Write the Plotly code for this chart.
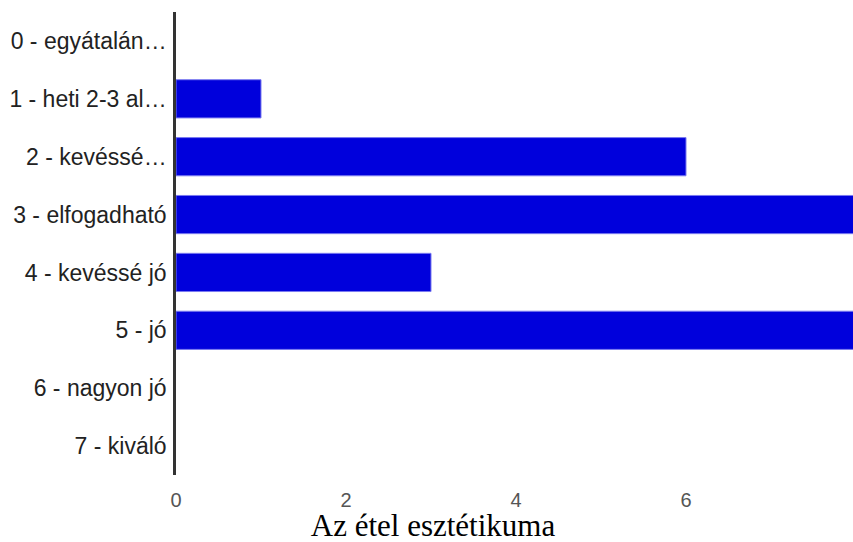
import plotly.graph_objects as go

categories = [
    "0 - egyátalán…",
    "1 - heti 2-3 al…",
    "2 - kevéssé…",
    "3 - elfogadható",
    "4 - kevéssé jó",
    "5 - jó",
    "6 - nagyon jó",
    "7 - kiváló",
]
counts = [0, 1, 6, 8, 3, 8, 0, 0]
x_ticks = [0, 2, 4, 6]

# no outline on empty rows so they stay invisible
edge_widths = [1 if v > 0 else 0 for v in counts]

fig = go.Figure(
    go.Bar(
        x=counts,
        y=categories,
        orientation="h",
        width=0.66,
        marker=dict(color="#0000DC", line=dict(color="#7A7AF0", width=edge_widths)),
        showlegend=False,
    )
)

fig.update_layout(
    width=853,
    height=542,
    margin=dict(l=176, r=0, t=12, b=67),
    paper_bgcolor="white",
    plot_bgcolor="white",
    font=dict(family="Liberation Sans, Arial, sans-serif"),
    title=dict(
        text="Az étel esztétikuma",
        font=dict(family="Liberation Serif, Times New Roman, serif", size=31, color="black"),
        x=433 / 853,
        xanchor="center",
        xref="container",
        y=1 - 525 / 542,
        yanchor="middle",
        yref="container",
    ),
    xaxis=dict(
        range=[0, 677 / 85],
        tickmode="array",
        tickvals=x_ticks,
        ticktext=[str(v) for v in x_ticks],
        showgrid=False,
        zeroline=False,
        showline=False,
        ticks="outside",
        ticklen=7,
        tickcolor="rgba(0,0,0,0)",
        tickfont=dict(family="Liberation Sans, Arial, sans-serif", size=20, color="#555555"),
        fixedrange=True,
    ),
    yaxis=dict(
        categoryorder="array",
        categoryarray=categories,
        autorange="reversed",
        showgrid=False,
        zeroline=False,
        showline=True,
        linecolor="#333333",
        linewidth=2.5,
        ticks="outside",
        ticklen=2,
        tickcolor="rgba(0,0,0,0)",
        tickfont=dict(size=23, color="#222222"),
        fixedrange=True,
    ),
)

fig.write_html("out.html")
